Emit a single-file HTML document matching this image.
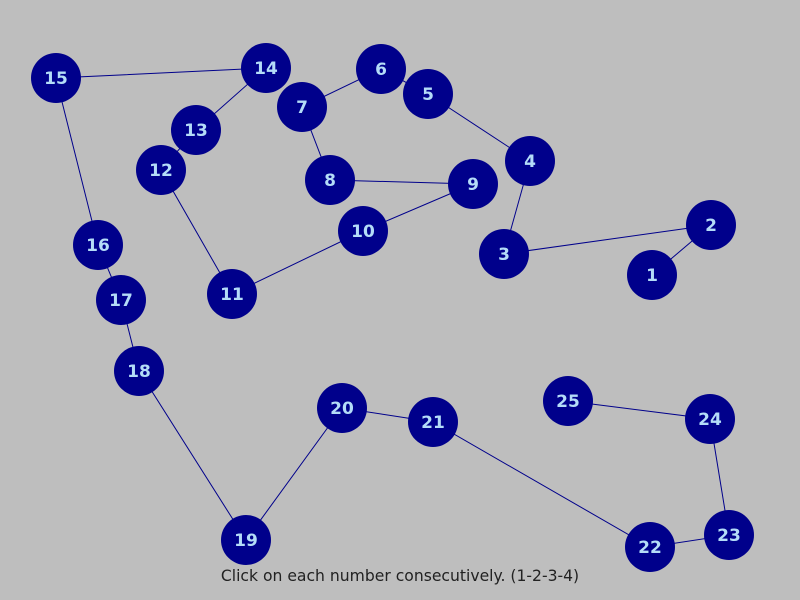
<!DOCTYPE html>
<html><head><style>
html,body{margin:0;padding:0;background:#bebebe;}
svg{display:block;}
</style></head><body>
<svg width="800" height="600" xmlns="http://www.w3.org/2000/svg">
<rect width="800" height="600" fill="#bebebe"/>
<g stroke="#00008b" stroke-width="1">
<polyline fill="none" points="652,275 711,225 504,254 530,161 428,94 381,69 302,107 330,180 473,184 363,231 232,294 161,170 196,130 266,68 56,78 98,245 121,300 139,371 246,540 342,408 433,422 650,547 729,535 710,419 568,401"/>
</g>
<g fill="#00008b">
<circle cx="652" cy="275" r="25"/><circle cx="711" cy="225" r="25"/><circle cx="504" cy="254" r="25"/><circle cx="530" cy="161" r="25"/><circle cx="428" cy="94" r="25"/><circle cx="381" cy="69" r="25"/><circle cx="302" cy="107" r="25"/><circle cx="330" cy="180" r="25"/><circle cx="473" cy="184" r="25"/><circle cx="363" cy="231" r="25"/><circle cx="232" cy="294" r="25"/><circle cx="161" cy="170" r="25"/><circle cx="196" cy="130" r="25"/><circle cx="266" cy="68" r="25"/><circle cx="56" cy="78" r="25"/><circle cx="98" cy="245" r="25"/><circle cx="121" cy="300" r="25"/><circle cx="139" cy="371" r="25"/><circle cx="246" cy="540" r="25"/><circle cx="342" cy="408" r="25"/><circle cx="433" cy="422" r="25"/><circle cx="650" cy="547" r="25"/><circle cx="729" cy="535" r="25"/><circle cx="710" cy="419" r="25"/><circle cx="568" cy="401" r="25"/>
</g>
<g fill="#b4dcf8" font-family="DejaVu Sans, sans-serif" font-weight="bold" font-size="17" text-anchor="middle">
<text x="652" y="281">1</text><text x="711" y="231">2</text><text x="504" y="260">3</text><text x="530" y="167">4</text><text x="428" y="100">5</text><text x="381" y="75">6</text><text x="302" y="113">7</text><text x="330" y="186">8</text><text x="473" y="190">9</text><text x="363" y="237">10</text><text x="232" y="300">11</text><text x="161" y="176">12</text><text x="196" y="136">13</text><text x="266" y="74">14</text><text x="56" y="84">15</text><text x="98" y="251">16</text><text x="121" y="306">17</text><text x="139" y="377">18</text><text x="246" y="546">19</text><text x="342" y="414">20</text><text x="433" y="428">21</text><text x="650" y="553">22</text><text x="729" y="541">23</text><text x="710" y="425">24</text><text x="568" y="407">25</text>
</g>
<text x="400" y="581" text-anchor="middle" font-family="DejaVu Sans, sans-serif" font-size="15.6" fill="#222">Click on each number consecutively. (1-2-3-4)</text>
</svg>
</body></html>
